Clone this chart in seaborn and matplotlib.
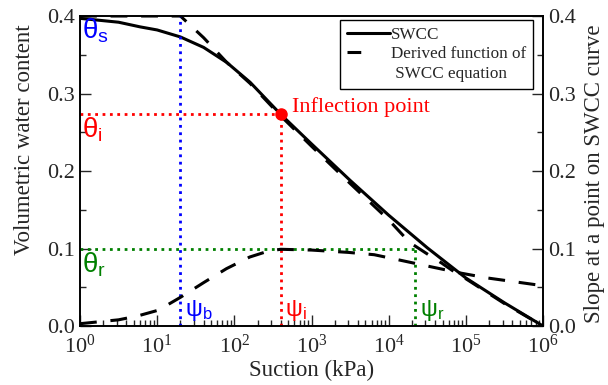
import matplotlib
matplotlib.use("Agg")
import matplotlib.pyplot as plt
import seaborn as sns
from matplotlib.lines import Line2D
from matplotlib.ticker import MultipleLocator, LogLocator, NullFormatter, FormatStrFormatter

# SWCC (solid)
swcc_suction = [1, 3.16, 6, 10, 20, 40, 80, 160, 400, 1000, 3160, 10000, 31600, 100000, 316000, 1000000]
swcc_theta = [0.397, 0.392, 0.386, 0.382, 0.373, 0.3595, 0.340, 0.3145, 0.273, 0.235, 0.188, 0.143, 0.101, 0.062, 0.030, 0.0]

# dashed curve that follows the SWCC (flat at theta_s until psi_b)
fit_suction = [1, 20, 40, 80, 160, 400, 1000, 3160, 10000, 18600, 31600, 49000, 66000, 100000, 316000, 1000000]
fit_theta = [0.4, 0.4, 0.372, 0.340, 0.313, 0.271, 0.232, 0.184, 0.137, 0.108, 0.093, 0.081, 0.072, 0.061, 0.029, 0.0]

# derived function (slope), right axis
slope_suction = [1, 3.16, 5.6, 10, 14, 20, 40, 79, 158, 282, 400, 1000, 3000, 6500, 14000, 37000, 89000, 190000, 1000000]
slope_value = [0.003, 0.008, 0.013, 0.020, 0.028, 0.037, 0.056, 0.074, 0.089, 0.097, 0.099, 0.098, 0.095, 0.092, 0.085, 0.076, 0.068, 0.062, 0.052]

# characteristic points
theta_s, theta_i, theta_r = 0.4, 0.273, 0.1
psi_b, psi_i, psi_r = 20, 400, 22000

sns.set_style("ticks")
plt.rcParams["font.family"] = ["Liberation Serif", "DejaVu Serif"]
plt.rcParams["mathtext.fontset"] = "stix"

fig = plt.figure(figsize=(6.08, 3.85), dpi=100)
ax = fig.add_axes([0.1316, 0.1532, 0.7615, 0.8052])
ax2 = ax.twinx()

dash = (0, (5.5, 4.5))
sns.lineplot(x=swcc_suction, y=swcc_theta, ax=ax, color="black", lw=2.2, estimator=None, sort=False)
sns.lineplot(x=fit_suction, y=fit_theta, ax=ax, color="black", lw=2.2, linestyle=dash, estimator=None, sort=False)
sns.lineplot(x=slope_suction, y=slope_value, ax=ax2, color="black", lw=2.2, linestyle=dash, estimator=None, sort=False)

# guide lines
dot_kw = dict(linestyle=":", lw=2.0)
ax.plot([psi_b, psi_b], [0, theta_s], color="blue", **dot_kw)
ax.plot([1, psi_i], [theta_i, theta_i], color="red", **dot_kw)
ax.plot([psi_i, psi_i], [0, theta_i], color="red", **dot_kw)
ax.plot([1, psi_r], [theta_r, theta_r], color="green", **dot_kw)
ax.plot([psi_r, psi_r], [0, theta_r], color="green", **dot_kw)
ax.plot([psi_i], [theta_i], "o", color="red", ms=8)

sans = ["Liberation Sans", "DejaVu Sans"]
ax.text(1.06, 0.399, r"$\mathregular{θ_s}$", color="blue", fontsize=20, family=sans, va="top", ha="left")
ax.text(1.06, 0.271, r"$\mathregular{θ_i}$", color="red", fontsize=20, family=sans, va="top", ha="left")
ax.text(1.06, 0.098, r"$\mathregular{θ_r}$", color="green", fontsize=20, family=sans, va="top", ha="left")
ax.text(psi_b * 1.15, 0.004, r"$\mathregular{ψ_b}$", color="blue", fontsize=17, family=sans, va="bottom", ha="left")
ax.text(psi_i * 1.15, 0.004, r"$\mathregular{ψ_i}$", color="red", fontsize=17, family=sans, va="bottom", ha="left")
ax.text(psi_r * 1.15, 0.004, r"$\mathregular{ψ_r}$", color="green", fontsize=17, family=sans, va="bottom", ha="left")
ax.text(psi_i * 1.4, theta_i + 0.009, "Inflection point", color="red", fontsize=16, va="center", ha="left")

for a in (ax, ax2):
    a.set_xscale("log")
    a.set_xlim(1, 1e6)
    a.set_ylim(0, 0.4)
    a.yaxis.set_major_locator(MultipleLocator(0.1))
    a.yaxis.set_minor_locator(MultipleLocator(0.05))
    a.yaxis.set_major_formatter(FormatStrFormatter("%.1f"))
    a.tick_params(which="both", direction="in", width=1.0, labelsize=16)
    a.tick_params(which="major", length=8)
    a.tick_params(which="minor", length=4.5)
    for s in a.spines.values():
        s.set_linewidth(1.2)
        s.set_color("black")
        s.set_visible(True)

ax.xaxis.set_major_locator(LogLocator(base=10, numticks=10))
ax.xaxis.set_minor_locator(LogLocator(base=10, subs=range(2, 10), numticks=100))
ax.xaxis.set_minor_formatter(NullFormatter())
ax.tick_params(axis="x", top=False, pad=6)
ax2.tick_params(axis="x", top=False)

ax.set_xlabel("Suction (kPa)", fontsize=16.5, labelpad=2)
ax.set_ylabel("Volumetric water content", fontsize=16.5)
ax.yaxis.set_label_coords(-0.097, 0.6)
ax2.set_ylabel("Slope at a point on SWCC curve", fontsize=16.5)
ax2.yaxis.set_label_coords(1.088, 0.49)

handles = [
    Line2D([], [], color="black", lw=2.2),
    Line2D([], [], color="black", lw=2.2, linestyle=(0, (4.5, 20))),
    Line2D([], [], color="none"),
]
labels = ["SWCC", "Derived function of", " SWCC equation"]
leg = ax2.legend(handles, labels, loc="upper right", bbox_to_anchor=(0.978, 0.987), borderaxespad=0,
                 fontsize=12.3, handlelength=2.5, handletextpad=0.05, labelspacing=0.2, borderpad=0.4,
                 fancybox=False, edgecolor="black", framealpha=1)
leg.get_frame().set_linewidth(1.0)

fig.savefig("out.png", dpi=100)
